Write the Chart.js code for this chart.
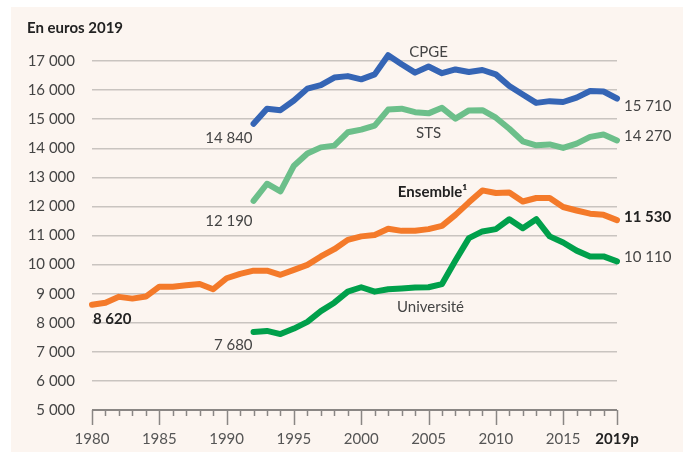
<!DOCTYPE html>
<html>
<head>
<meta charset="utf-8">
<script src="https://cdn.jsdelivr.net/npm/chart.js@4.4.1/dist/chart.umd.min.js"></script>
<style>
  html, body { margin: 0; padding: 0; background: #ffffff; }
  #wrap { width: 683px; height: 452px; position: relative; }
</style>
</head>
<body>
<div id="wrap"><canvas id="myChart"></canvas></div>
<script>
// donnees (euros 2019)
var annees = [1980,1981,1982,1983,1984,1985,1986,1987,1988,1989,
              1990,1991,1992,1993,1994,1995,1996,1997,1998,1999,
              2000,2001,2002,2003,2004,2005,2006,2007,2008,2009,
              2010,2011,2012,2013,2014,2015,2016,2017,2018,2019];
var annees92 = [1992,1993,1994,1995,1996,1997,1998,1999,
                2000,2001,2002,2003,2004,2005,2006,2007,2008,2009,
                2010,2011,2012,2013,2014,2015,2016,2017,2018,2019];

var ensemble = [8620,8690,8890,8830,8900,9240,9240,9290,9330,9150,
                9530,9680,9790,9790,9650,9820,9990,10280,10530,10850,
                10970,11020,11230,11160,11160,11220,11330,11710,12140,12550,
                12460,12480,12170,12290,12290,11980,11860,11750,11710,11530];
var universite = [7680,7720,7610,7800,8030,8400,8690,9070,
                  9220,9070,9150,9180,9210,9220,9330,10140,10910,11140,
                  11220,11560,11250,11560,10970,10760,10480,10280,10280,10110];
var cpge = [14840,15360,15310,15640,16050,16170,16430,16480,
            16370,16540,17200,16890,16600,16810,16580,16710,16620,16690,
            16540,16140,15850,15560,15620,15590,15740,15970,15950,15710];
var sts = [12190,12780,12520,13400,13820,14030,14090,14550,
           14640,14780,15330,15360,15240,15200,15390,15020,15300,15310,
           15050,14670,14240,14100,14130,14010,14160,14390,14470,14270];

var yTicks = [5000,6000,7000,8000,9000,10000,11000,12000,13000,14000,15000,16000,17000];
var xLabels = [1980,1985,1990,1995,2000,2005,2010,2015];
var titre = "En euros 2019";

var police = "Lato, 'Open Sans', sans-serif";

function fmt(v) {
  return String(v).replace(/\B(?=(\d{3})+(?!\d))/g, ' ');
}
function pts(xs, ys) {
  return xs.map(function(x, i){ return {x: x, y: ys[i]}; });
}

var series = [
  {nom: "CPGE", x: annees92, y: cpge, couleur: "#3565b5", gras: false,
   dxNom: 0, dyNom: -14, dyDebut: 14, dyFin: 8},
  {nom: "STS", x: annees92, y: sts, couleur: "#6cbf8a", gras: false,
   dxNom: 0, dyNom: 20, dyDebut: 20, dyFin: -4},
  {nom: "Ensemble\u00b9", x: annees, y: ensemble, couleur: "#f47a2a", gras: true,
   dxNom: 4, dyNom: -37, dyDebut: 14, dyFin: -3},
  {nom: "Universit\u00e9", x: annees92, y: universite, couleur: "#00a04b", gras: false,
   dxNom: 2, dyNom: 20, dyDebut: 13, dyFin: -4}
];

var fond = {
  id: 'fond',
  beforeDraw: function(chart) {
    var c = chart.ctx;
    c.save();
    c.fillStyle = '#ffffff';
    c.fillRect(0, 0, chart.width, chart.height);
    c.fillStyle = '#fcf5f0';
    c.fillRect(11, 7, chart.width - 11, chart.height - 7);
    c.fillStyle = '#222';
    c.font = "bold 15px " + police;
    c.textBaseline = 'middle';
    c.fillText(titre, 27, 28);
    c.restore();
  }
};

var graduations = {
  id: 'graduations',
  afterDraw: function(chart) {
    var c = chart.ctx, sx = chart.scales.x, bas = chart.chartArea.bottom;
    c.save();
    c.strokeStyle = '#8a8684';
    c.lineWidth = 1.5;
    for (var i = 0; i < annees.length; i++) {
      var a = annees[i];
      var px = Math.round(sx.getPixelForValue(a)) + 0.5;
      var grand = (a % 5 === 0) || a === 2019;
      c.beginPath();
      c.moveTo(px, bas);
      c.lineTo(px, bas + (grand ? 15 : 6));
      c.stroke();
    }
    c.restore();
  }
};

var etiquettes = {
  id: 'etiquettes',
  afterDatasetsDraw: function(chart) {
    var c = chart.ctx, sx = chart.scales.x, sy = chart.scales.y;
    c.save();
    c.textBaseline = 'middle';
    series.forEach(function(s) {
      var n = s.y.length;
      var x0 = sx.getPixelForValue(s.x[0]), y0 = sy.getPixelForValue(s.y[0]);
      var x1 = sx.getPixelForValue(s.x[n - 1]), y1 = sy.getPixelForValue(s.y[n - 1]);
      c.font = (s.gras ? "bold " : "") + "15px " + police;
      c.fillStyle = s.gras ? '#222' : '#444';
      // valeur de depart
      if (s.x[0] === 1980) {
        c.textAlign = 'left';
        c.fillText(fmt(s.y[0]), x0 + 1, y0 + s.dyDebut);
      } else {
        c.textAlign = 'right';
        c.fillText(fmt(s.y[0]), x0 - 1, y0 + s.dyDebut);
      }
      // valeur finale
      c.textAlign = 'left';
      c.fillText(fmt(s.y[n - 1]), x1 + 7, y1 + s.dyFin);
      // nom de la serie (vers 2005)
      var k = s.x.indexOf(2005);
      var xn = sx.getPixelForValue(2005), yn = sy.getPixelForValue(s.y[k]);
      c.textAlign = 'center';
      c.font = (s.gras ? "bold " : "") + "15px " + police;
      c.fillText(s.nom, xn + s.dxNom, yn + s.dyNom);
    });
    c.restore();
  }
};

new Chart('myChart', {
  type: 'line',
  data: {
    datasets: series.map(function(s) {
      return {
        label: s.nom,
        data: pts(s.x, s.y),
        borderColor: s.couleur,
        backgroundColor: s.couleur,
        borderWidth: 6,
        borderCapStyle: 'round',
        borderJoinStyle: 'round',
        pointRadius: 0,
        tension: 0,
        fill: false,
        clip: false
      };
    })
  },
  options: {
    responsive: true,
    maintainAspectRatio: false,
    animation: false,
    events: [],
    layout: { padding: { top: 61, right: 66, left: 0, bottom: 0 } },
    plugins: { legend: { display: false }, tooltip: { enabled: false }, title: { display: false } },
    scales: {
      x: {
        type: 'linear',
        min: 1980, max: 2019,
        border: { display: false },
        grid: { display: false, drawTicks: false },
        afterBuildTicks: function(axis) {
          axis.ticks = xLabels.concat([2019]).map(function(v){ return {value: v}; });
        },
        afterFit: function(axis) { axis.height = 42; },
        ticks: {
          autoSkip: false,
          maxRotation: 0,
          padding: 20,
          color: function(ctx) { return ctx.tick && ctx.tick.value === 2019 ? '#222' : '#555'; },
          font: function(ctx) {
            return { family: police, size: 15, weight: (ctx.tick && ctx.tick.value === 2019) ? 'bold' : 'normal' };
          },
          callback: function(v) { return v === 2019 ? '2019p' : String(v); }
        }
      },
      y: {
        min: 5000, max: 17000,
        border: { display: false },
        afterBuildTicks: function(axis) {
          axis.ticks = yTicks.map(function(v){ return {value: v}; });
        },
        afterFit: function(axis) { axis.width = 92; },
        grid: {
          drawTicks: false,
          color: function(ctx) { return ctx.tick && ctx.tick.value === 5000 ? '#8a8684' : '#c9c4c0'; },
          lineWidth: function(ctx) { return ctx.tick && ctx.tick.value === 5000 ? 2 : 1.5; }
        },
        ticks: {
          padding: 17,
          color: '#444',
          font: { family: police, size: 15 },
          callback: function(v) { return fmt(v); }
        }
      }
    }
  },
  plugins: [fond, graduations, etiquettes]
});
</script>
</body>
</html>
